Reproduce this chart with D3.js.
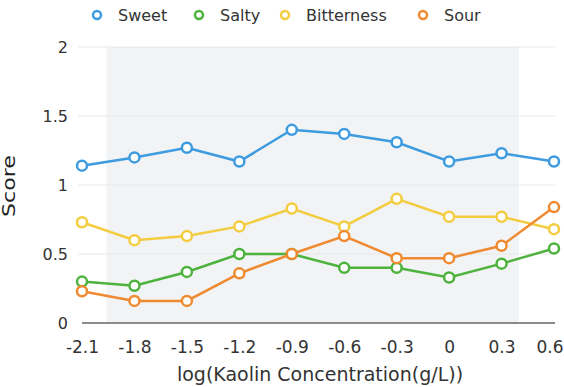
<!DOCTYPE html>
<html>
<head>
<meta charset="utf-8">
<script src="https://cdn.jsdelivr.net/npm/d3@7"></script>
<style>
  body { margin: 0; background: #fff; }
  text { font-family: "DejaVu Sans", "Noto Sans", sans-serif; }
</style>
</head>
<body>
<div id="chart"></div>
<script>
// data
const xValues = [-2.1, -1.8, -1.5, -1.2, -0.9, -0.6, -0.3, 0, 0.3, 0.6];
const xTickLabels = ["-2.1", "-1.8", "-1.5", "-1.2", "-0.9", "-0.6", "-0.3", "0", "0.3", "0.6"];
const yTicks = [0, 0.5, 1, 1.5, 2];
const seriesNames = ["Sweet", "Salty", "Bitterness", "Sour"];
const sweet = [1.14, 1.2, 1.27, 1.17, 1.4, 1.37, 1.31, 1.17, 1.23, 1.17];
const salty = [0.3, 0.27, 0.37, 0.5, 0.5, 0.4, 0.4, 0.33, 0.43, 0.54];
const bitterness = [0.73, 0.6, 0.63, 0.7, 0.83, 0.7, 0.9, 0.77, 0.77, 0.68];
const sour = [0.23, 0.16, 0.16, 0.36, 0.5, 0.63, 0.47, 0.47, 0.56, 0.84];
const bandRange = [-1.96, 0.4];

const colors = ["#3d9be0", "#4db33d", "#f3cc3f", "#f08a30"];
const seriesValues = [sweet, salty, bitterness, sour];

const width = 564, height = 387;
const margin = { top: 47, right: 10, bottom: 64, left: 82 };
const fontFamily = "'DejaVu Sans', 'Noto Sans', sans-serif";

const svg = d3.select("#chart")
    .append("svg")
    .attr("width", width)
    .attr("height", height);

const x = d3.scaleLinear()
    .domain([-2.1, 0.6])
    .range([margin.left, width - margin.right]);

const y = d3.scaleLinear()
    .domain([0, 2])
    .range([height - margin.bottom, margin.top]);

// shaded band
svg.append("rect")
    .attr("x", x(bandRange[0]))
    .attr("y", y(2))
    .attr("width", x(bandRange[1]) - x(bandRange[0]))
    .attr("height", y(0) - y(2))
    .attr("fill", "#f1f3f5");

// gridlines
svg.append("g")
    .selectAll("line")
    .data(yTicks.filter(d => d > 0))
    .join("line")
    .attr("x1", margin.left - 4)
    .attr("x2", width - margin.right + 1)
    .attr("y1", d => y(d))
    .attr("y2", d => y(d))
    .attr("stroke", "#e8e8e8")
    .attr("stroke-width", 1);

// y axis labels
svg.append("g")
    .selectAll("text")
    .data(yTicks)
    .join("text")
    .attr("x", 68)
    .attr("y", d => y(d))
    .attr("dy", "0.35em")
    .attr("text-anchor", "end")
    .attr("font-size", 16)
    .attr("fill", "#333")
    .text(d => d);

// x axis
const xAxis = svg.append("g")
    .attr("transform", `translate(0, ${y(0)})`)
    .call(d3.axisBottom(x)
        .tickValues(xValues)
        .tickFormat((d, i) => xTickLabels[i])
        .tickSize(0)
        .tickPadding(18));
xAxis.select(".domain")
    .attr("stroke", "#666")
    .attr("stroke-width", 1.5)
    .attr("d", `M${x(-2.1)},0H${x(0.6) + 1}`);
xAxis.selectAll("text")
    .attr("font-size", 17)
    .attr("fill", "#333")
    .style("font-family", fontFamily);
// last label is pushed in so it stays inside the frame
xAxis.selectAll(".tick")
    .filter(d => d === 0.6)
    .select("text")
    .attr("text-anchor", "end")
    .attr("x", 9);

// axis titles
svg.append("text")
    .attr("transform", `translate(15, 186) rotate(-90)`)
    .attr("text-anchor", "middle")
    .attr("font-size", 17)
    .attr("textLength", 62)
    .attr("lengthAdjust", "spacingAndGlyphs")
    .attr("fill", "#222")
    .text("Score");

svg.append("text")
    .attr("x", 320)
    .attr("y", 381)
    .attr("text-anchor", "middle")
    .attr("font-size", 19)
    .attr("fill", "#333")
    .text("log(Kaolin Concentration(g/L))");

// lines and markers
const line = d3.line()
    .x((d, i) => x(xValues[i]))
    .y(d => y(d));

seriesValues.forEach((vals, s) => {
    const g = svg.append("g");
    g.append("path")
        .datum(vals)
        .attr("fill", "none")
        .attr("stroke", colors[s])
        .attr("stroke-width", 2.5)
        .attr("d", line);
    g.selectAll("circle")
        .data(vals)
        .join("circle")
        .attr("cx", (d, i) => x(xValues[i]))
        .attr("cy", d => y(d))
        .attr("r", 5)
        .attr("fill", "#fff")
        .attr("stroke", colors[s])
        .attr("stroke-width", 2.5);
});

// legend
const legendX = [97, 199, 285, 423];
const legend = svg.append("g");
seriesNames.forEach((name, i) => {
    legend.append("circle")
        .attr("cx", legendX[i])
        .attr("cy", 15)
        .attr("r", 4)
        .attr("fill", "#fff")
        .attr("stroke", colors[i])
        .attr("stroke-width", 2.5);
    legend.append("text")
        .attr("x", legendX[i] + 21)
        .attr("y", 15)
        .attr("dy", "0.35em")
        .attr("font-size", 16)
        .attr("fill", "#333")
        .text(name);
});
</script>
</body>
</html>
